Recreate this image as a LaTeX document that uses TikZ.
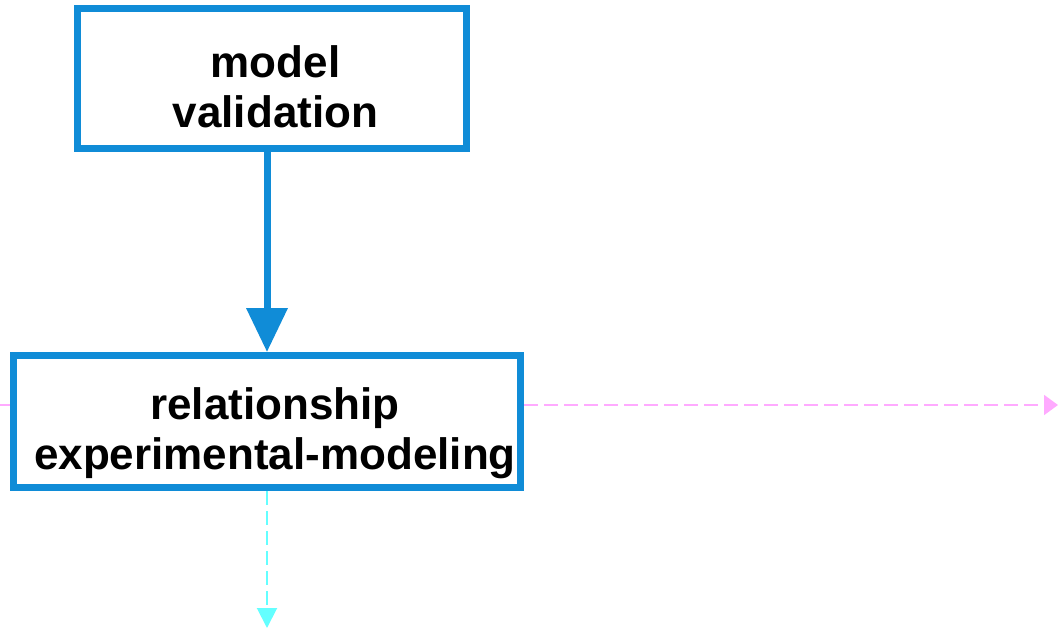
\documentclass[tikz,border=0pt]{standalone}
\usepackage{fontspec}
\setmainfont{Liberation Sans}
\usetikzlibrary{arrows.meta}
\definecolor{frameblue}{RGB}{16,140,215}
\definecolor{linkpink}{RGB}{255,170,255}
\definecolor{linkcyan}{RGB}{100,255,255}
% first-line strut that sets the text lower in its frame
\newcommand{\capstrut}[1]{\rule{0pt}{#1}}
\begin{document}
\begin{tikzpicture}[x=1pt,y=-1pt,
  stagebox/.style={draw=frameblue, line width=7pt, fill=white, rectangle,
    inner sep=0pt, align=center, font=\bfseries\fontsize{44}{50}\selectfont},
  mainflow/.style={draw=frameblue, line width=7pt,
    -{Triangle[width=40pt,length=44pt]}},
  sidelink/.style={line width=2pt, dash pattern=on 14pt off 6pt}
]
\useasboundingbox (0,0) rectangle (1058,629);
% free ends of the dashed links
\coordinate (lin)  at (0,405);
\coordinate (lout) at (1058,405);
\coordinate (dout) at (267,628);

\node[stagebox, minimum width=389pt, minimum height=140pt] (mv) at (272,78.5)
  {\hspace*{7pt}\capstrut{48pt}model\\\hspace*{7pt}validation};
\node[stagebox, minimum width=507pt, minimum height=132pt] (rel) at (267,421.5)
  {\hspace*{16pt}\capstrut{56pt}relationship\\\hspace*{16pt}experimental-modeling};

\draw[mainflow] (mv.south -| rel.center) -- (rel.north);
\draw[sidelink, draw=linkpink] (lin) -- (lin -| rel.west);
\draw[sidelink, draw=linkpink, -{Triangle[width=20pt,length=14pt]}, linkpink]
  (lout -| rel.east) -- (lout);
\draw[sidelink, draw=linkcyan, -{Triangle[width=20pt,length=20pt]}, linkcyan]
  (rel.south) -- (dout);
\end{tikzpicture}
\end{document}
